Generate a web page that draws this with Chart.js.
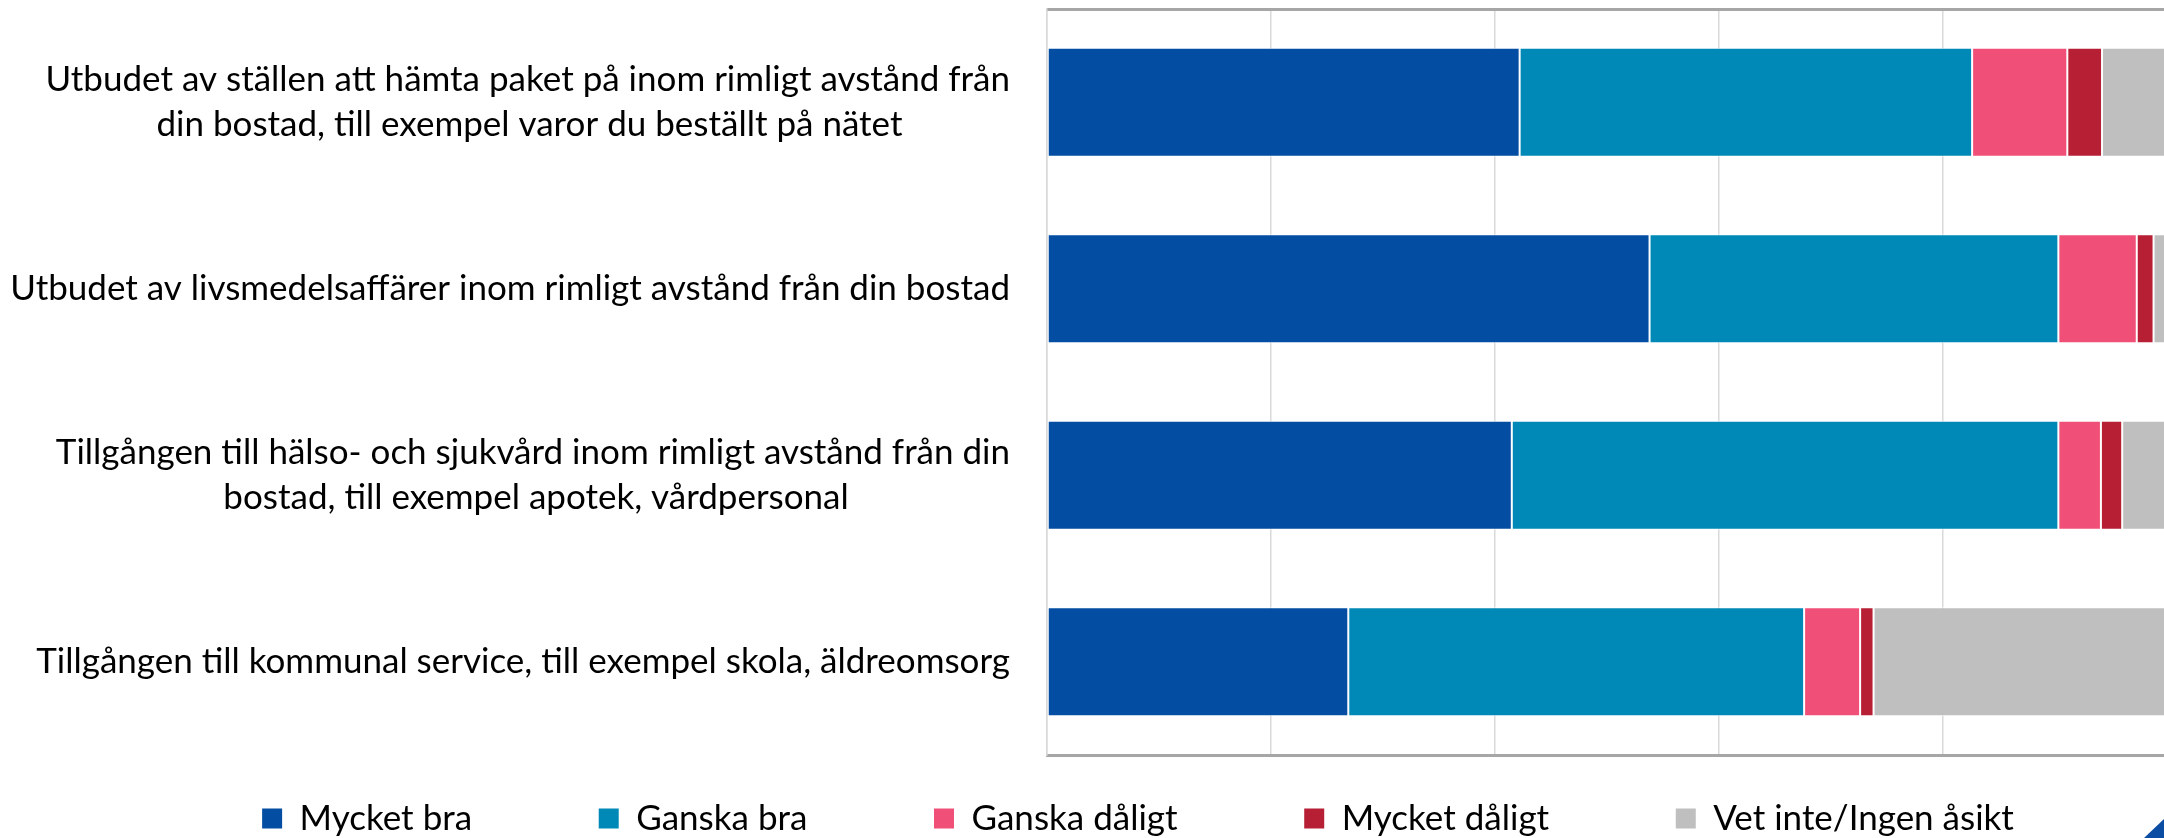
<!DOCTYPE html>
<html>
<head>
<meta charset="utf-8">
<script src="https://cdn.jsdelivr.net/npm/chart.js@4.4.0/dist/chart.umd.min.js"></script>
<style>
  html, body { margin: 0; padding: 0; background: #fff; overflow: hidden; }
  #wrap { width: 2164px; height: 838px; overflow: hidden; position: relative; }
  /* bit of the slide's corner decoration */
  #corner { position: absolute; right: 0; bottom: 0; width: 20px; height: 19px;
            background: #0a4da3; clip-path: polygon(100% 0, 100% 100%, 0 100%); }
</style>
</head>
<body>
<div id="wrap"><canvas id="myChart" width="2276" height="846"></canvas><div id="corner"></div></div>
<script>
// questions (y categories), long ones split in two lines like the original
const categories = [
    ['Utbudet av ställen att hämta paket på inom rimligt avstånd från', 'din bostad, till exempel varor du beställt på nätet'],
    'Utbudet av livsmedelsaffärer inom rimligt avstånd från din bostad',
    ['Tillgången till hälso- och sjukvård inom rimligt avstånd från din', 'bostad, till exempel apotek, vårdpersonal'],
    'Tillgången till kommunal service, till exempel skola, äldreomsorg'
];
const seriesNames = ['Mycket bra', 'Ganska bra', 'Ganska dåligt', 'Mycket dåligt', 'Vet inte/Ingen åsikt'];
const mycketBra    = [42.2, 53.8, 41.5, 26.9];
const ganskaBra    = [40.4, 36.5, 48.8, 40.7];
const ganskaDaligt = [8.5, 7.0, 3.8, 5.0];
const mycketDaligt = [3.1, 1.5, 1.9, 1.2];
const vetInte      = [5.8, 1.2, 4.0, 26.2];
const seriesColors = ['#034ea2', '#0089b6', '#f05078', '#b71f35', '#bfbfbf'];

const FONT = 'Lato';
const FS = 35;

// center the lines of a two-line label inside its right-aligned block
const mctx = document.createElement('canvas').getContext('2d');
mctx.font = FS + 'px ' + FONT;
const spaceW = mctx.measureText(' ').width;
function centerLines(lbl) {
    if (!Array.isArray(lbl)) return lbl;
    const w = lbl.map(l => mctx.measureText(l).width);
    const max = Math.max(...w);
    return lbl.map((l, i) => l + ' '.repeat(Math.round((max - w[i]) / 2 / spaceW)));
}

const legendPad = 46;
const legendGap = 130;
const gapSpaces = ' '.repeat(Math.max(0, Math.round((legendGap - legendPad) / spaceW)));

const allValues = [mycketBra, ganskaBra, ganskaDaligt, mycketDaligt, vetInte];
const datasets = seriesNames.map((name, i) => ({
    label: name,
    data: allValues[i],
    backgroundColor: seriesColors[i],
    borderColor: 'rgba(255,255,255,0.85)',
    borderWidth: 1,
    borderSkipped: false,
    barPercentage: 0.585,
    categoryPercentage: 1
}));

function noLabelPad(scale) {
    scale.paddingTop = 0;
    scale.paddingBottom = 0;
}

let ctx = document.getElementById('myChart').getContext('2d');
let myChart = new Chart(ctx, {
    type: 'bar',
    data: {
        labels: categories.map(centerLines),
        datasets: datasets
    },
    options: {
        indexAxis: 'y',
        responsive: false,
        animation: false,
        layout: { padding: { top: 9, right: 0, left: 0, bottom: 0 } },
        scales: {
            x: {
                stacked: true,
                min: 0,
                max: 100,
                ticks: { display: false, stepSize: 20 },
                grid: { color: '#d9d9d9', lineWidth: 1.5, drawTicks: false },
                border: { display: true, color: '#a6a6a6', width: 3 }
            },
            x2: {
                position: 'top',
                min: 0,
                max: 100,
                ticks: { display: false },
                grid: { display: false, drawTicks: false },
                border: { display: true, color: '#a6a6a6', width: 3 }
            },
            y: {
                stacked: true,
                grid: { display: false, drawTicks: false },
                border: { display: true, color: '#d9d9d9', width: 1.5 },
                ticks: {
                    color: '#000',
                    padding: 37,
                    font: { family: FONT, size: FS, lineHeight: 1.3 }
                },
                afterFit: function(scale) {
                    scale.width = 1047;
                    noLabelPad(scale);
                }
            },
            // empty right margin (plot is cut off at the right edge of the picture)
            y2: {
                position: 'right',
                grid: { display: false, drawTicks: false },
                border: { display: false },
                ticks: { display: false },
                afterFit: function(scale) {
                    scale.width = 109;
                    noLabelPad(scale);
                }
            }
        },
        plugins: {
            tooltip: { enabled: false },
            legend: {
                position: 'bottom',
                labels: {
                    color: '#000',
                    boxWidth: 20,
                    boxHeight: 20,
                    padding: legendPad,
                    font: { family: FONT, size: FS },
                    generateLabels: function(chart) {
                        const items = Chart.defaults.plugins.legend.labels.generateLabels(chart);
                        items.forEach((it, i) => {
                            it.lineWidth = 0;
                            if (i < items.length - 1) it.text = it.text + gapSpaces;
                        });
                        return items;
                    }
                }
            }
        }
    }
});
</script>
</body>
</html>
